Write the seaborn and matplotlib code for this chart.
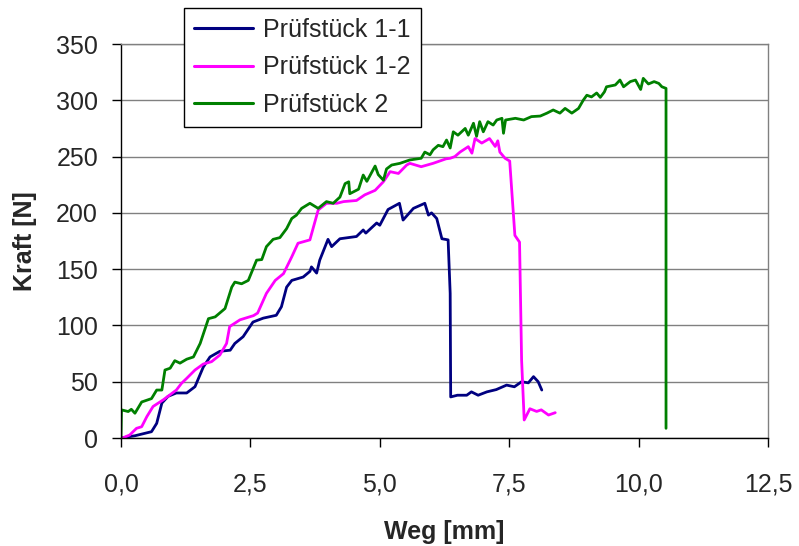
import pandas as pd
import numpy as np
import matplotlib
matplotlib.use('Agg')
import matplotlib.pyplot as plt
import seaborn as sns

# Prüfstück 1-1
weg_11 = [0.0, 0.27, 0.59, 0.69, 0.79, 0.91, 1.07, 1.27, 1.43, 1.59, 1.72, 1.91, 2.11, 2.2, 2.36,
          2.55, 2.75, 3.0, 3.1, 3.2, 3.3, 3.52, 3.65, 3.68, 3.78, 3.84, 4.0, 4.07, 4.23, 4.55,
          4.68, 4.73, 4.94, 5.0, 5.16, 5.38, 5.45, 5.65, 5.87, 5.94, 6.0, 6.1, 6.2, 6.32, 6.36,
          6.37, 6.5, 6.68, 6.77, 6.9, 7.07, 7.25, 7.45, 7.6, 7.74, 7.87, 7.97, 8.06, 8.13]
kraft_11 = [0, 2, 5.6, 13, 31, 37, 40, 40, 45.6, 63, 72, 77, 78, 84, 90,
            103, 106.5, 109, 116.6, 134, 140, 143, 148, 152, 146.5, 158, 176.5, 170, 177, 179,
            184.8, 182, 191, 189, 203, 208.5, 193.6, 204, 208.5, 198, 200, 195, 177, 176, 128.5,
            36.5, 38, 38, 41, 38, 41, 43, 47, 45.5, 50, 49, 54.5, 50, 42.6]

# Prüfstück 1-2
weg_12 = [0.03, 0.17, 0.3, 0.4, 0.5, 0.62, 0.82, 1.07, 1.17, 1.27, 1.43, 1.59, 1.75, 1.91, 2.04,
          2.1, 2.3, 2.56, 2.64, 2.81, 2.98, 3.14, 3.3, 3.42, 3.65, 3.81, 3.97, 4.17, 4.3, 4.55,
          4.71, 4.91, 5.07, 5.2, 5.36, 5.52, 5.58, 5.8, 6.03, 6.28, 6.36, 6.45, 6.55, 6.71, 6.78,
          6.84, 6.97, 7.12, 7.23, 7.28, 7.32, 7.42, 7.51, 7.61, 7.7, 7.74, 7.79, 7.9, 8.03, 8.12,
          8.26, 8.39]
kraft_12 = [0, 2.7, 8.6, 10, 19, 28, 34, 42.6, 48.6, 53, 60.4, 65.7, 67.8, 73.7, 84,
            99, 105, 108.7, 111, 128.5, 140, 146, 161, 173, 176, 202.5, 208.5, 208.5, 210, 211,
            216, 220, 227.7, 236.6, 235, 242.5, 244, 241, 244, 248, 248.5, 250, 254, 258.8, 253,
            266, 262, 266, 259, 264, 254, 248.5, 246, 180, 174, 69, 16, 26, 23.6, 25,
            20.4, 22.5]

# Prüfstück 2
weg_2 = [0.0, 0.01, 0.14, 0.2, 0.27, 0.4, 0.59, 0.69, 0.79, 0.85, 0.95, 1.04, 1.14, 1.27, 1.4,
         1.53, 1.69, 1.82, 2.01, 2.14, 2.2, 2.33, 2.46, 2.62, 2.72, 2.81, 2.94, 3.07, 3.2, 3.3,
         3.39, 3.49, 3.65, 3.81, 3.97, 4.1, 4.23, 4.33, 4.4, 4.42, 4.59, 4.68, 4.75, 4.91, 4.97,
         5.07, 5.13, 5.23, 5.39, 5.58, 5.8, 5.87, 5.97, 6.03, 6.13, 6.22, 6.29, 6.36, 6.42, 6.51,
         6.65, 6.71, 6.81, 6.87, 6.93, 7.0, 7.09, 7.19, 7.26, 7.36, 7.39, 7.43, 7.62, 7.78, 7.93,
         8.1, 8.23, 8.35, 8.48, 8.58, 8.71, 8.84, 8.93, 9.0, 9.09, 9.19, 9.26, 9.34, 9.38, 9.55,
         9.64, 9.71, 9.84, 9.94, 10.04, 10.09, 10.19, 10.3, 10.39, 10.45, 10.53, 10.53]
kraft_2 = [0, 25, 23.5, 25.5, 22, 32, 35, 42.6, 42.6, 60.4, 62, 68.7, 66.5, 70, 72,
           84, 106, 107.6, 115, 134, 138.5, 137, 140, 158, 158.5, 170, 176.5, 178, 186, 195,
           198, 204, 208.5, 204, 210, 208.5, 214, 226, 227.6, 217, 221, 233.6, 228, 241.6, 234,
           229, 239, 242.5, 244, 247, 248.5, 254, 251.6, 256, 260, 258.8, 264.7, 257.6, 272, 269,
           275, 269, 279.6, 268, 281, 272, 281, 278, 282.5, 284, 270.7, 282.5, 284, 282.5, 285.5,
           286, 288.6, 291.4, 288.6, 292.8, 288.6, 292.8, 300, 304.5, 303, 306.5, 302.6, 307.5, 312, 313.6,
           318, 312, 316.6, 318, 309.6, 319.5, 314.5, 316.6, 315, 312, 310.6, 8.6]

names = ['Prüfstück 1-1', 'Prüfstück 1-2', 'Prüfstück 2']
farben = ['#000080', '#FF00FF', '#008000']
x_ticks = [0, 2.5, 5, 7.5, 10, 12.5]
x_labels = ['0,0', '2,5', '5,0', '7,5', '10,0', '12,5']
y_ticks = [0, 50, 100, 150, 200, 250, 300, 350]

df = pd.concat([
    pd.DataFrame({'Weg': weg_11, 'Kraft': kraft_11, 'Probe': names[0]}),
    pd.DataFrame({'Weg': weg_12, 'Kraft': kraft_12, 'Probe': names[1]}),
    pd.DataFrame({'Weg': weg_2, 'Kraft': kraft_2, 'Probe': names[2]}),
], ignore_index=True)

sns.set_style('white')
plt.rcParams['font.family'] = ['Liberation Sans', 'DejaVu Sans']

fig = plt.figure(figsize=(7.99, 5.46), dpi=100)
ax = fig.add_axes([0.1514, 0.1978, 0.8098, 0.7216])

sns.lineplot(data=df, x='Weg', y='Kraft', hue='Probe', palette=farben, sort=False,
             estimator=None, linewidth=2.0, ax=ax, legend=True)

ax.set_xlim(0, 12.5)
ax.set_ylim(0, 350)
ax.set_xticks(x_ticks)
ax.set_xticklabels(x_labels)
ax.set_yticks(y_ticks)
ax.yaxis.grid(True, color='#808080', linewidth=1.0)
ax.set_axisbelow(True)
ax.tick_params(axis='both', direction='out', length=6.5, width=1, color='black',
               labelsize=18, left=True, bottom=True)
ax.tick_params(axis='x', pad=18)
ax.tick_params(axis='y', pad=10)
for s in ['left', 'bottom']:
    ax.spines[s].set_color('black')
    ax.spines[s].set_linewidth(1)
for s in ['top', 'right']:
    ax.spines[s].set_color('#808080')
    ax.spines[s].set_linewidth(1)

ax.set_xlabel('Weg [mm]', fontsize=18, fontweight='bold', labelpad=17)
ax.set_ylabel('Kraft [N]', fontsize=18, fontweight='bold', labelpad=14)

handles, labels = ax.get_legend_handles_labels()
leg = ax.legend(handles, labels, loc='upper left', bbox_to_anchor=(184 / 799, 1 - 8 / 546),
                bbox_transform=fig.transFigure, fontsize=18, frameon=True, fancybox=False,
                edgecolor='black', framealpha=1, borderpad=0.4, labelspacing=0.54,
                handlelength=2.36, handletextpad=0.4, borderaxespad=0)
leg.get_frame().set_linewidth(1)
for h in leg.get_lines():
    h.set_linewidth(2.2)

fig.savefig('out.png', dpi=100)
